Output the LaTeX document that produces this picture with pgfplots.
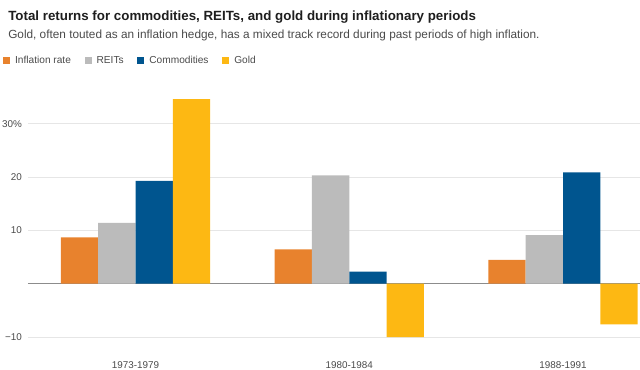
\documentclass[border=0pt]{standalone}
\usepackage{pgfplots}
\pgfplotsset{compat=1.18}
\usepackage{fontspec}
\setmainfont{Liberation Sans}
\definecolor{cInf}{HTML}{E8822D}
\definecolor{cReit}{HTML}{BBBBBB}
\definecolor{cCom}{HTML}{00558F}
\definecolor{cGold}{HTML}{FDB813}
\definecolor{cTitle}{HTML}{1E1E1E}
\definecolor{cText}{HTML}{4A4A4A}
\definecolor{cGrid}{HTML}{E6E6E6}
\definecolor{cZero}{HTML}{8C8C8C}
\begin{document}
\begin{tikzpicture}
\useasboundingbox (0pt,0pt) rectangle (480pt,277.5pt);
\node[anchor=base west, inner sep=0pt, font=\bfseries\fontsize{10}{12}\selectfont, text=cTitle] at (6pt,261.75pt) {Total returns for commodities, REITs, and gold during inflationary periods};
\node[anchor=base west, inner sep=0pt, font=\fontsize{8.85}{10}\selectfont, text=cText] at (6pt,248.5pt) {Gold, often touted as an inflation hedge, has a mixed track record during past periods of high inflation.};
\begin{axis}[
  at={(21pt,20.7pt)}, anchor=south west,
  scale only axis, width=459pt, height=188pt,
  xmin=-0.503, xmax=2.36, ymin=-11, ymax=36,
  axis line style={draw=none},
  ybar=0pt, bar width=0.1745,
  xtick={0,1,2}, xticklabels={1973-1979,1980-1984,1988-1991},
  ytick={-10,10,20,30}, yticklabels={−10,10,20,30\%},
  major tick length=0pt,
  ymajorgrids, grid style={cGrid, line width=0.8pt},
  extra y ticks={0}, extra y tick labels={},
  extra y tick style={grid style={cZero, line width=0.9pt}},
  tick label style={font=\fontsize{7.4}{9}\selectfont, text=cText},
  xticklabel style={yshift=-11pt},
  yticklabel style={xshift=-1pt},
  legend style={at={(axis description cs:-0.041,1.123)}, anchor=west, draw=none, fill=none,
    inner xsep=0pt,
    legend columns=4, font=\fontsize{7.6}{9}\selectfont, text=cText,
    /tikz/every even column/.append style={column sep=8.3pt},
    /tikz/every odd column/.append style={column sep=1.75pt}},
  legend image code/.code={\fill[#1] (0pt,-2.6pt) rectangle (5.25pt,2.6pt);},
  clip=false,
]
\addplot[fill=cInf, draw=none] coordinates {(0,8.7) (1,6.45) (2,4.45)};
\addplot[fill=cReit, draw=none] coordinates {(0,11.4) (1,20.3) (2,9.1)};
\addplot[fill=cCom, draw=none] coordinates {(0,19.3) (1,2.25) (2,20.9)};
\addplot[fill=cGold, draw=none] coordinates {(0,34.6) (1,-10.0) (2,-7.6)};
\legend{Inflation rate,REITs,Commodities,Gold}
\end{axis}
\end{tikzpicture}
\end{document}
